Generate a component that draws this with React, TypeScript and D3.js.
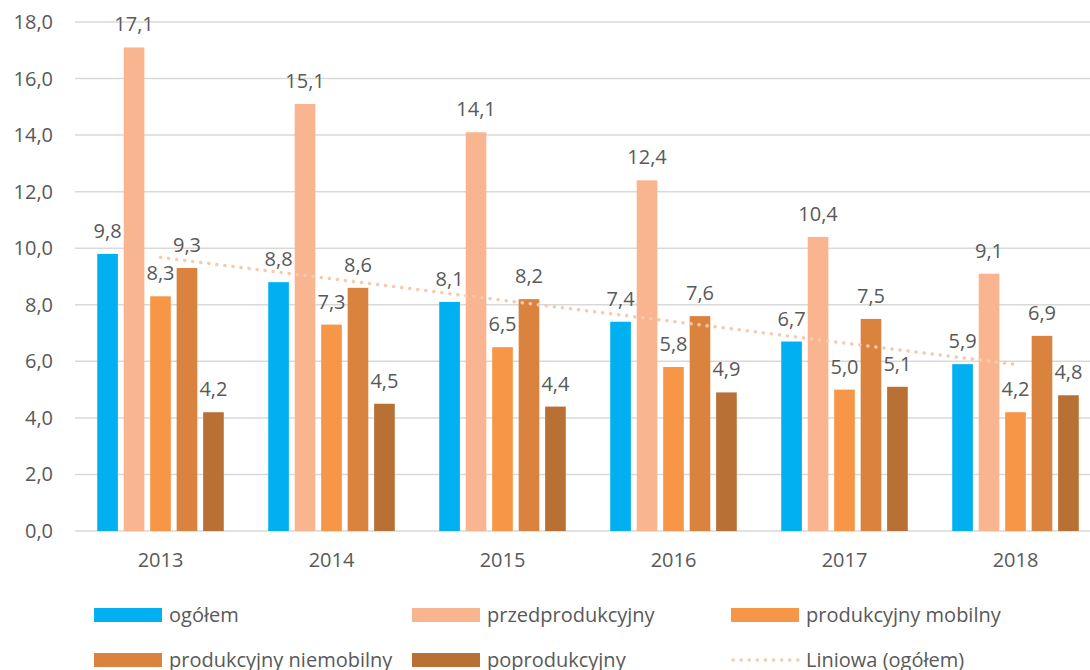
import { useEffect, useRef } from "react";
import * as d3 from "d3";

const years = ["2013", "2014", "2015", "2016", "2017", "2018"];
const seriesNames = [
  "ogółem",
  "przedprodukcyjny",
  "produkcyjny mobilny",
  "produkcyjny niemobilny",
  "poprodukcyjny",
];
const ogolem = [9.8, 8.8, 8.1, 7.4, 6.7, 5.9];
const przedprodukcyjny = [17.1, 15.1, 14.1, 12.4, 10.4, 9.1];
const mobilny = [8.3, 7.3, 6.5, 5.8, 5.0, 4.2];
const niemobilny = [9.3, 8.6, 8.2, 7.6, 7.5, 6.9];
const poprodukcyjny = [4.2, 4.5, 4.4, 4.9, 5.1, 4.8];
const yTicks = [0, 2, 4, 6, 8, 10, 12, 14, 16, 18];
const colors = ["#00B0F0", "#F8B58F", "#F79646", "#D9833F", "#B87034"];
const trendColor = "#F9C9AE";
const trendLabel = "Liniowa (ogółem)";

const fmt = (v: number) => v.toFixed(1).replace(".", ",");
const FONT = "'Open Sans', sans-serif";
const FS = 20;
const TEXT = "#595959";

export default function App() {
  const ref = useRef<SVGSVGElement>(null);

  useEffect(() => {
    const svg = d3.select(ref.current);
    svg.selectAll("*").remove();

    const values = [ogolem, przedprodukcyjny, mobilny, niemobilny, poprodukcyjny];
    const left = 75;
    const bottom = 531;
    const top = 22;

    const y = d3.scaleLinear().domain([0, 18]).range([bottom, top]);
    const x0 = d3
      .scaleBand()
      .domain(years)
      .range([left, left + 171 * 6])
      .paddingInner(0.26)
      .paddingOuter(0.13);
    const x1 = d3
      .scaleBand()
      .domain(seriesNames)
      .range([0, x0.bandwidth()])
      .paddingInner(0.22);

    // gridlines
    svg
      .append("g")
      .selectAll("line")
      .data(yTicks)
      .enter()
      .append("line")
      .attr("x1", left)
      .attr("x2", 1090)
      .attr("y1", (d) => y(d))
      .attr("y2", (d) => y(d))
      .attr("stroke", "#D9D9D9")
      .attr("stroke-width", 1.5);

    // y labels
    svg
      .append("g")
      .selectAll("text")
      .data(yTicks)
      .enter()
      .append("text")
      .attr("x", 53)
      .attr("y", (d) => y(d))
      .attr("dy", "0.35em")
      .attr("text-anchor", "end")
      .attr("font-family", FONT)
      .attr("font-size", FS)
      .attr("fill", TEXT)
      .text((d) => fmt(d));

    // bars
    const groups = svg
      .append("g")
      .selectAll("g")
      .data(years)
      .enter()
      .append("g")
      .attr("transform", (d) => `translate(${x0(d)},0)`);

    groups.each(function (yr, i) {
      const g = d3.select(this);
      seriesNames.forEach((s, k) => {
        const v = values[k][i];
        g.append("rect")
          .attr("x", x1(s)!)
          .attr("y", y(v))
          .attr("width", x1.bandwidth())
          .attr("height", bottom - y(v))
          .attr("fill", colors[k]);
        g.append("text")
          .attr("x", x1(s)! + x1.bandwidth() / 2)
          .attr("y", y(v) - 16)
          .attr("text-anchor", "middle")
          .attr("font-family", FONT)
          .attr("font-size", FS)
          .attr("fill", TEXT)
          .text(fmt(v));
      });
    });

    // x labels
    svg
      .append("g")
      .selectAll("text")
      .data(years)
      .enter()
      .append("text")
      .attr("x", (d) => x0(d)! + x0.bandwidth() / 2)
      .attr("y", 567)
      .attr("text-anchor", "middle")
      .attr("font-family", FONT)
      .attr("font-size", FS)
      .attr("fill", TEXT)
      .text((d) => d);

    // linear trend of ogółem
    const xs = years.map((_, i) => i + 1);
    const mx = d3.mean(xs)!;
    const my = d3.mean(ogolem)!;
    const slope =
      d3.sum(xs, (xv, i) => (xv - mx) * (ogolem[i] - my)) /
      d3.sum(xs, (xv) => (xv - mx) ** 2);
    const icpt = my - slope * mx;
    const trend = [0, years.length - 1].map((i) => [
      x0(years[i])! + x0.bandwidth() / 2,
      y(icpt + slope * (i + 1)),
    ]) as [number, number][];
    svg
      .append("path")
      .attr("d", d3.line()(trend))
      .attr("fill", "none")
      .attr("stroke", trendColor)
      .attr("stroke-width", 3.5)
      .attr("stroke-linecap", "round")
      .attr("stroke-dasharray", "0.1 8");

    // legend
    const legend = [
      { name: seriesNames[0], color: colors[0], x: 94, y: 615, line: false },
      { name: seriesNames[1], color: colors[1], x: 412, y: 615, line: false },
      { name: seriesNames[2], color: colors[2], x: 731, y: 615, line: false },
      { name: seriesNames[3], color: colors[3], x: 94, y: 660, line: false },
      { name: seriesNames[4], color: colors[4], x: 412, y: 660, line: false },
      { name: trendLabel, color: trendColor, x: 731, y: 660, line: true },
    ];
    const lg = svg
      .append("g")
      .selectAll("g")
      .data(legend)
      .enter()
      .append("g")
      .attr("transform", (d) => `translate(${d.x},${d.y})`);
    lg.each(function (d) {
      const g = d3.select(this);
      if (d.line) {
        g.append("line")
          .attr("x1", 2)
          .attr("x2", 68)
          .attr("stroke", d.color)
          .attr("stroke-width", 3.5)
          .attr("stroke-linecap", "round")
          .attr("stroke-dasharray", "0.1 8");
      } else {
        g.append("rect")
          .attr("x", 0)
          .attr("y", -7)
          .attr("width", 68)
          .attr("height", 14)
          .attr("fill", d.color);
      }
      g.append("text")
        .attr("x", 75)
        .attr("dy", "0.35em")
        .attr("font-family", FONT)
        .attr("font-size", FS)
        .attr("fill", TEXT)
        .text(d.name);
    });
  }, []);

  return (
    <svg
      ref={ref}
      width={1090}
      height={670}
      style={{ position: "absolute", left: 0, top: 0, background: "#fff" }}
    />
  );
}
